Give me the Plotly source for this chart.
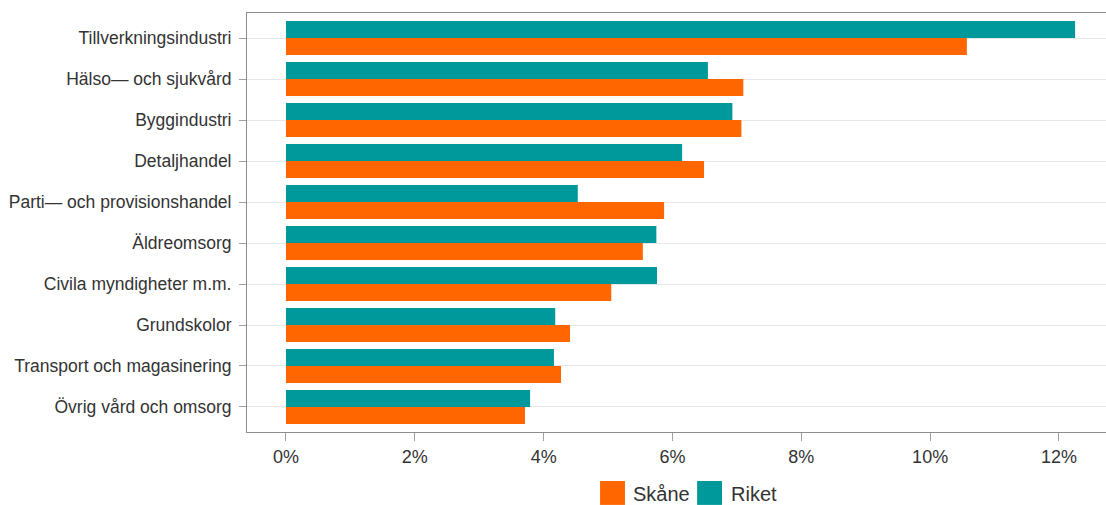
import plotly.graph_objects as go

categories = [
    "Tillverkningsindustri",
    "Hälso\u2014 och sjukvård",
    "Byggindustri",
    "Detaljhandel",
    "Parti\u2014 och provisionshandel",
    "Äldreomsorg",
    "Civila myndigheter m.m.",
    "Grundskolor",
    "Transport och magasinering",
    "Övrig vård och omsorg",
]
skane = [0.1057, 0.0710, 0.0707, 0.0649, 0.0587, 0.0554, 0.0505, 0.0441, 0.0427, 0.0371]
riket = [0.1225, 0.0655, 0.0693, 0.0615, 0.0453, 0.0575, 0.0576, 0.0418, 0.0416, 0.0379]
x_ticks = [0, 0.02, 0.04, 0.06, 0.08, 0.10, 0.12]

TEAL = "#00999B"
ORANGE = "#FF6600"
FONT = "Liberation Sans"

fig = go.Figure()
fig.add_trace(go.Bar(y=categories, x=riket, orientation="h", name="Riket",
                     marker=dict(color=TEAL, line=dict(width=0)), showlegend=False))
fig.add_trace(go.Bar(y=categories, x=skane, orientation="h", name="Skåne",
                     marker=dict(color=ORANGE, line=dict(width=0)), showlegend=False))

fig.update_layout(
    width=1106, height=505,
    margin=dict(l=247, r=0, t=13, b=73),
    barmode="group", bargap=0.17, bargroupgap=0,
    plot_bgcolor="white", paper_bgcolor="white",
    font=dict(family=FONT, size=17.5, color="#333333"),
    xaxis=dict(
        range=[-0.00605, 0.1273], tickvals=x_ticks, tickformat=".0%",
        showgrid=False, zeroline=False,
        showline=True, linecolor="#8c8c8c", linewidth=1, mirror=True,
        ticks="outside", ticklen=8, tickcolor="#a0a0a0",
        tickfont=dict(size=18, color="#333333"),
    ),
    yaxis=dict(
        type="category", range=[9.61, -0.61],
        showgrid=True, gridcolor="#e8e8e8", gridwidth=1,
        showline=True, linecolor="#8c8c8c", linewidth=1,
        ticks="outside", ticklen=7, tickcolor="#a0a0a0",
        ticklabelstandoff=4,
        tickfont=dict(size=17.5, color="#333333"),
    ),
    showlegend=False,
)

# custom legend
leg = [("Skåne", ORANGE, 0.411, 0.4467), ("Riket", TEAL, 0.524, 0.5607)]
for name, col, x0, tx in leg:
    fig.add_shape(type="rect", xref="paper", yref="paper",
                  x0=x0, x1=x0 + 0.029, y0=-0.174, y1=-0.117,
                  fillcolor=col, line=dict(width=0))
    fig.add_annotation(xref="paper", yref="paper", x=tx, y=-0.147,
                       text=name, showarrow=False, xanchor="left", yanchor="middle",
                       font=dict(size=20, color="#333333", family=FONT))

fig.write_html("out.html", config={"displayModeBar": False},
               post_script="document.body.style.margin='0';document.body.style.overflow='hidden';")
